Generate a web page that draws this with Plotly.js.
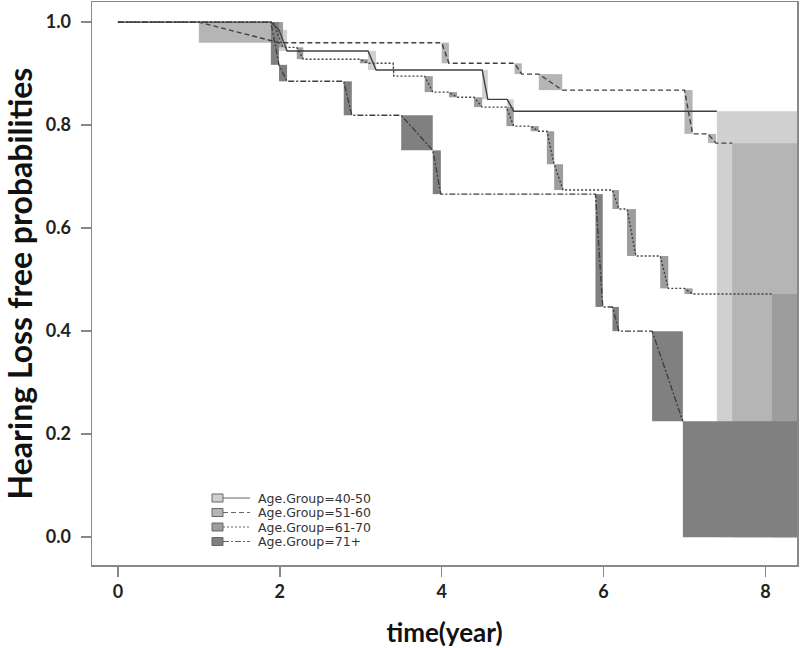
<!DOCTYPE html>
<html>
<head>
<meta charset="utf-8">
<script src="https://cdn.plot.ly/plotly-3.0.1.min.js"></script>
<style>body{margin:0;padding:0;background:#fff;}#chart{width:800px;height:648px;}</style>
</head>
<body>
<div id="chart"></div>
<script>
// ---- Data ----
const groupNames = ['Age.Group=40-50', 'Age.Group=51-60', 'Age.Group=61-70', 'Age.Group=71+'];

// Each drop: starts at time t0 (at previous survival), ends at time t1 (at new survival s)
const g1_t0 = [1.89, 1.99, 3.09, 4.50, 4.81, 7.40];
const g1_t1 = [1.99, 2.09, 3.19, 4.57, 4.89, 9.00];
const g1_s  = [0.985, 0.944, 0.907, 0.850, 0.827, 0];

const g2_t0 = [1.00, 4.00, 4.90, 5.20, 7.00, 7.29, 7.59];
const g2_t1 = [1.99, 4.09, 4.99, 5.49, 7.10, 7.39, 9.00];
const g2_s  = [0.960, 0.920, 0.899, 0.868, 0.783, 0.765, 0];

const g3_t0 = [1.92, 2.21, 2.99, 3.40, 3.79, 4.09, 4.40, 4.80, 5.10, 5.30, 5.39, 6.11, 6.29, 6.70, 7.00, 8.08];
const g3_t1 = [2.04, 2.29, 3.09, 3.41, 3.89, 4.19, 4.50, 4.89, 5.20, 5.39, 5.50, 6.19, 6.40, 6.80, 7.10, 9.00];
const g3_s  = [0.951, 0.928, 0.920, 0.895, 0.864, 0.854, 0.835, 0.798, 0.788, 0.724, 0.674, 0.637, 0.546, 0.483, 0.472, 0];

const g4_t0 = [1.89, 1.99, 2.79, 3.50, 3.89, 5.90, 6.11, 6.60, 6.98];
const g4_t1 = [1.99, 2.09, 2.89, 3.89, 3.99, 5.99, 6.19, 6.98, 9.00];
const g4_s  = [0.917, 0.885, 0.819, 0.751, 0.666, 0.447, 0.400, 0.225, 0];

const xTicks = [0, 2, 4, 6, 8];
const yTicks = [0, 0.2, 0.4, 0.6, 0.8, 1.0];
const yTickText = ['0.0', '0.2', '0.4', '0.6', '0.8', '1.0'];

// ---- Styles ----
const fills = ['#d0d0d0', '#b5b5b5', '#9d9d9d', '#808080'];
const dashes = ['solid', '5px,3px', '2px,2px', '6px,2px,2px,2px'];
const lineColor = '#404040';

const groups = [
  {t0: g1_t0, t1: g1_t1, s: g1_s},
  {t0: g2_t0, t1: g2_t1, s: g2_s},
  {t0: g3_t0, t1: g3_t1, s: g3_s},
  {t0: g4_t0, t1: g4_t1, s: g4_s}
];

const shapes = [];
const traces = [];

groups.forEach((g, gi) => {
  let prev = 1;
  const xs = [0], ys = [1];
  g.t0.forEach((t0, i) => {
    const t1 = g.t1[i], s = g.s[i];
    shapes.push({type: 'rect', xref: 'x', yref: 'y', x0: t0, x1: t1, y0: s, y1: prev,
      fillcolor: fills[gi], line: {width: 0}, layer: 'below'});
    if (i < g.t0.length - 1) {
      xs.push(t0, t1); ys.push(prev, s);
    } else {
      xs.push(t0); ys.push(prev);
    }
    prev = s;
  });
  traces.push({x: xs, y: ys, type: 'scatter', mode: 'lines', name: groupNames[gi],
    line: {color: lineColor, width: 1.4, dash: dashes[gi]}, showlegend: false, hoverinfo: 'skip'});
});

// ---- Manual legend (paper coords) ----
const plotL = 92, plotR = 797, plotT = 2, plotB = 565;
const px2x = p => (p - plotL) / (plotR - plotL);
const px2y = p => (plotB - p) / (plotB - plotT);
const legendRows = [498, 512.5, 527, 541.5];
const annotations = [];
groupNames.forEach((nm, gi) => {
  const cy = legendRows[gi];
  shapes.push({type: 'rect', xref: 'paper', yref: 'paper', x0: px2x(212), x1: px2x(223),
    y0: px2y(cy + 4), y1: px2y(cy - 4), fillcolor: fills[gi], line: {color: '#666', width: 1}});
  shapes.push({type: 'line', xref: 'paper', yref: 'paper', x0: px2x(223), x1: px2x(250),
    y0: px2y(cy), y1: px2y(cy), line: {color: '#666', width: 1, dash: dashes[gi]}});
  annotations.push({xref: 'paper', yref: 'paper', x: px2x(257), y: px2y(cy), xanchor: 'left', yanchor: 'middle',
    text: nm, showarrow: false, borderpad: 0,
    font: {family: 'DejaVu Sans, Liberation Sans, Arial', size: 12.5, color: '#333'}});
});

const tickFont = {family: 'Lato, Open Sans, sans-serif', size: 18, color: '#222', weight: 'bold'};

const layout = {
  width: 800, height: 648,
  margin: {l: plotL, r: 800 - plotR, t: plotT, b: 648 - plotB},
  paper_bgcolor: '#fff', plot_bgcolor: '#fff',
  showlegend: false,
  xaxis: {range: [-0.32, 8.39], tickvals: xTicks, ticktext: xTicks.map(String),
    showgrid: false, zeroline: false, showline: true, mirror: true, linecolor: '#888', linewidth: 1.5,
    ticks: 'outside', ticklen: 10, tickcolor: '#888', tickwidth: 1.5, tickfont: tickFont,
    title: {text: 'time(year)', font: {family: 'Lato, Open Sans, sans-serif', size: 26, color: '#111', weight: 'bold'}, standoff: 26}},
  yaxis: {range: [-0.054, 1.039], tickvals: yTicks, ticktext: yTickText,
    showgrid: false, zeroline: false, showline: true, mirror: true, linecolor: '#888', linewidth: 1.5,
    ticks: 'outside', ticklen: 10, tickcolor: '#888', tickwidth: 1.5, tickfont: tickFont, ticklabelstandoff: 6,
    title: {text: 'Hearing Loss free probabilities', font: {family: 'Lato, Open Sans, sans-serif', size: 32, color: '#111', weight: 'bold'}, standoff: 5}},
  shapes: shapes,
  annotations: annotations
};

Plotly.newPlot('chart', traces, layout, {displayModeBar: false, staticPlot: true});
</script>
</body>
</html>
